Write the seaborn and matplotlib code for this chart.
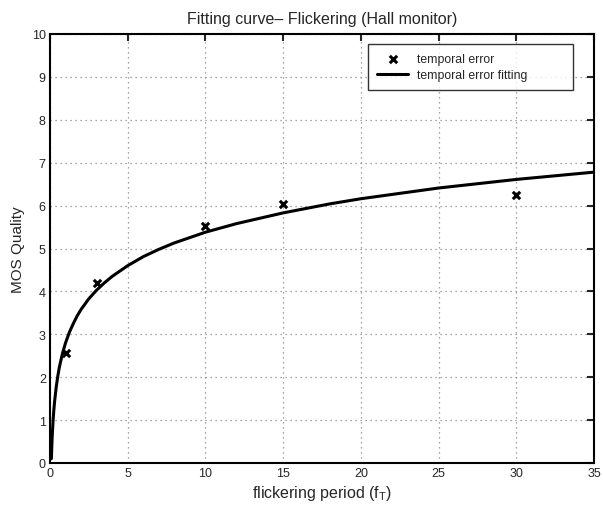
import matplotlib
matplotlib.use("Agg")
import matplotlib.pyplot as plt
import seaborn as sns
import pandas as pd

# measured points (temporal error)
period = [1, 3, 10, 15, 30]
mos = [2.56, 4.2, 5.53, 6.04, 6.25]

# fitted curve, values
fit_x = [0.09, 0.12, 0.15, 0.2, 0.25, 0.3, 0.4, 0.5, 0.6, 0.8, 1, 1.25, 1.5, 1.75, 2,
         2.5, 3, 3.5, 4, 5, 6, 7, 8, 10, 12, 15, 18, 20, 25, 30, 35]
fit_y = [0.10, 0.43, 0.68, 1.00, 1.25, 1.45, 1.77, 2.02, 2.23, 2.55, 2.80, 3.05, 3.25,
         3.43, 3.58, 3.83, 4.03, 4.20, 4.35, 4.60, 4.81, 4.98, 5.13, 5.38, 5.58, 5.83,
         6.04, 6.16, 6.41, 6.61, 6.78]

pts = pd.DataFrame({"period": period, "mos": mos})
fit = pd.DataFrame({"period": fit_x, "mos": fit_y})

sns.set_style("white")
plt.rcParams["font.family"] = ["Liberation Sans", "DejaVu Sans"]
plt.rcParams["mathtext.fontset"] = "custom"
plt.rcParams["mathtext.rm"] = "Liberation Sans"
plt.rcParams["mathtext.it"] = "Liberation Sans"

fig = plt.figure(figsize=(6.03, 5.06), dpi=100)
ax = fig.add_axes([50 / 603, 1 - 464 / 506, 544 / 603, 429 / 506])

sns.scatterplot(data=pts, x="period", y="mos", marker="x", color="black", s=28,
                linewidth=2.2, ax=ax, label="temporal error", zorder=3)
sns.lineplot(data=fit, x="period", y="mos", color="black", linewidth=2.2, ax=ax,
             label="temporal error fitting", zorder=2)

ax.set_xlim(0, 35)
ax.set_ylim(0, 10)
ax.set_xticks(range(0, 36, 5))
ax.set_yticks(range(0, 11))
ax.grid(True, color="#888888", linestyle=(0, (1, 3)), linewidth=0.9)
for s in ax.spines.values():
    s.set_linewidth(1.5)
    s.set_color("black")
ax.tick_params(direction="in", length=5, width=1.5, top=True, right=True,
               labelsize=9, pad=3)

ax.set_title("Fitting curve\u2013 Flickering (Hall monitor)", fontsize=11.5, pad=8)
ax.set_xlabel(r"flickering period (f$_\mathregular{T}$)", fontsize=11.5, labelpad=3)
ax.set_ylabel("MOS Quality", fontsize=11, labelpad=5)

leg = ax.legend(loc="upper left", bbox_to_anchor=(0.585, 0.872, 0.376, 0.105),
                mode="expand", fontsize=8.8, frameon=True, fancybox=False,
                edgecolor="black", borderpad=0.75, handlelength=2.5,
                handletextpad=0.75, labelspacing=0.35, borderaxespad=0)
leg.get_frame().set_linewidth(1.0)

fig.savefig("out.png", dpi=100)
